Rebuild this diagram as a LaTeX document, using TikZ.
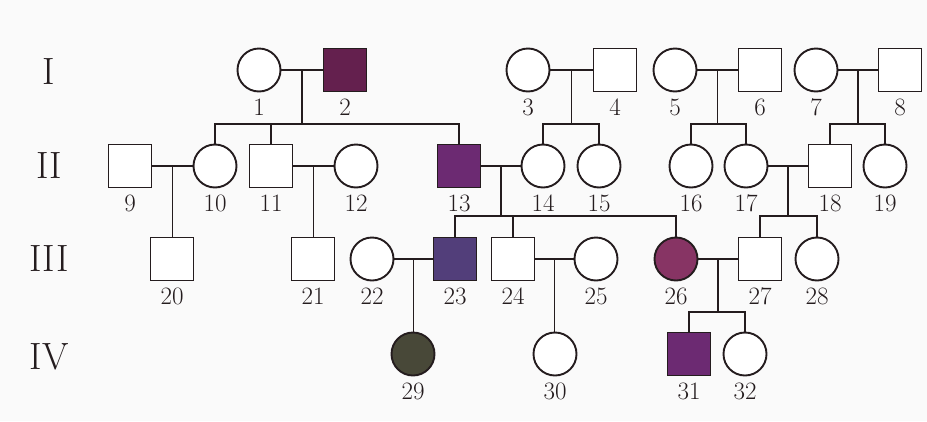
\documentclass[tikz,border=0pt]{standalone}
\usepackage{tikz}
\usetikzlibrary{positioning, calc}
\definecolor{affmaroon}{RGB}{100,32,78}
\definecolor{affpurple}{RGB}{108,42,114}
\definecolor{affblue}{RGB}{82,62,122}
\definecolor{affpink}{RGB}{135,52,100}
\definecolor{affolive}{RGB}{72,72,56}
\definecolor{inkline}{RGB}{36,28,30}

\begin{document}
\begin{tikzpicture}[x=1pt, y=-1pt, font=\fontsize{25}{25}\selectfont,
label distance=6pt,
every label/.style={inner sep=0pt, text=inkline},
male/.style={rectangle, draw=inkline, line width=1.9pt, fill=#1,
minimum size=43pt, inner sep=0pt},
male/.default=white,
female/.style={circle, draw=inkline, line width=1.9pt, fill=#1,
minimum size=43pt, inner sep=0pt},
female/.default=white,
link/.style={draw=inkline, line width=1.9pt},
gen/.style={font=\fontsize{38}{38}\selectfont, text=inkline}
]

% Paper
\fill[black!2] (0,0) rectangle (927,421);

% Generation numbers
\node[gen] (g1) at (49,72) {I};
\node[gen] (g2) at (49,166) {II};
\node[gen] (g3) at (49,259) {III};
\node[gen] (g4) at (49,357) {IV};

% Generation I
\node[female, label=below:1] (p1) at (259,70) {};
\node[male=affmaroon, label=below:2] (p2) at (345,70) {};
\node[female, label=below:3] (p3) at (528,70) {};
\node[male, label=below:4] (p4) at (615,70) {};
\node[female, label=below:5] (p5) at (675,70) {};
\node[male, label=below:6] (p6) at (760,70) {};
\node[female, label=below:7] (p7) at (816,70) {};
\node[male, label=below:8] (p8) at (900,70) {};

% Generation II
\node[male, label=below:9] (p9) at (130,166) {};
\node[female, label=below:10] (p10) at (215,166) {};
\node[male, label=below:11] (p11) at (271,166) {};
\node[female, label=below:12] (p12) at (356,166) {};
\node[male=affpurple, label=below:13] (p13) at (459,166) {};
\node[female, label=below:14] (p14) at (543,166) {};
\node[female, label=below:15] (p15) at (599,166) {};
\node[female, label=below:16] (p16) at (691,166) {};
\node[female, label=below:17] (p17) at (746,166) {};
\node[male, label=below:18] (p18) at (830,166) {};
\node[female, label=below:19] (p19) at (885,166) {};

% Generation III
\node[male, label=below:20] (p20) at (172,259) {};
\node[male, label=below:21] (p21) at (313,259) {};
\node[female, label=below:22] (p22) at (372,259) {};
\node[male=affblue, label=below:23] (p23) at (455,259) {};
\node[male, label=below:24] (p24) at (513,259) {};
\node[female, label=below:25] (p25) at (596,259) {};
\node[female=affpink, label=below:26] (p26) at (676,259) {};
\node[male, label=below:27] (p27) at (760,259) {};
\node[female, label=below:28] (p28) at (817,259) {};

% Generation IV
\node[female=affolive, label=below:29] (p29) at (413,354) {};
\node[female, label=below:30] (p30) at (555,354) {};
\node[male=affpurple, label=below:31] (p31) at (689,354) {};
\node[female, label=below:32] (p32) at (745,354) {};

% Marriages
\draw[link] (p1) -- (p2);
\draw[link] (p3) -- (p4);
\draw[link] (p5) -- (p6);
\draw[link] (p7) -- (p8);
\draw[link] (p9) -- (p10);
\draw[link] (p11) -- (p12);
\draw[link] (p13) -- (p14);
\draw[link] (p17) -- (p18);
\draw[link] (p22) -- (p23);
\draw[link] (p24) -- (p25);
\draw[link] (p26) -- (p27);

% Couple midpoints and sibship lines
\coordinate (m12) at ($(p1.east)!.5!(p2.west)$);
\coordinate (m34) at ($(p3.east)!.5!(p4.west)$);
\coordinate (m56) at ($(p5.east)!.5!(p6.west)$);
\coordinate (m78) at ($(p7.east)!.5!(p8.west)$);
\coordinate (m910) at ($(p9.east)!.5!(p10.west)$);
\coordinate (m1112) at ($(p11.east)!.5!(p12.west)$);
\coordinate (m1314) at ($(p13.east)!.5!(p14.west)$);
\coordinate (m1718) at ($(p17.east)!.5!(p18.west)$);
\coordinate (m2223) at ($(p22.east)!.5!(p23.west)$);
\coordinate (m2425) at ($(p24.east)!.5!(p25.west)$);
\coordinate (m2627) at ($(p26.east)!.5!(p27.west)$);

\coordinate (s12) at ($(m12)+(0,54)$);
\coordinate (s34) at ($(m34)+(0,54)$);
\coordinate (s56) at ($(m56)+(0,54)$);
\coordinate (s78) at ($(m78)+(0,54)$);
\coordinate (s1314) at ($(m1314)+(0,50)$);
\coordinate (s1718) at ($(m1718)+(0,50)$);
\coordinate (s2627) at ($(m2627)+(0,53)$);

% Children of 1 and 2
\draw[link] (m12) -- (s12);
\draw[link] (p10.north) |- (s12) -| (p13.north);
\draw[link] (p11.north) -- (p11.north |- s12);

% Children of 3 and 4
\draw[link] (m34) -- (s34);
\draw[link] (p14.north) |- (s34) -| (p15.north);

% Children of 5 and 6
\draw[link] (m56) -- (s56);
\draw[link] (p16.north) |- (s56) -| (p17.north);

% Children of 7 and 8
\draw[link] (m78) -- (s78);
\draw[link] (p18.north) |- (s78) -| (p19.north);

% Only children
\draw[link] (m910) -- (m910 |- p20.north);
\draw[link] (m1112) -- (m1112 |- p21.north);
\draw[link] (m2223) -- (m2223 |- p29.north);
\draw[link] (m2425) -- (m2425 |- p30.north);

% Children of 13 and 14
\draw[link] (m1314) -- (s1314);
\draw[link] (p23.north) |- (s1314) -| (p26.north);
\draw[link] (p24.north) -- (p24.north |- s1314);

% Children of 17 and 18
\draw[link] (m1718) -- (s1718);
\draw[link] (p27.north) |- (s1718) -| (p28.north);

% Children of 26 and 27
\draw[link] (m2627) -- (s2627);
\draw[link] (p31.north) |- (s2627) -| (p32.north);

\end{tikzpicture}
\end{document}
